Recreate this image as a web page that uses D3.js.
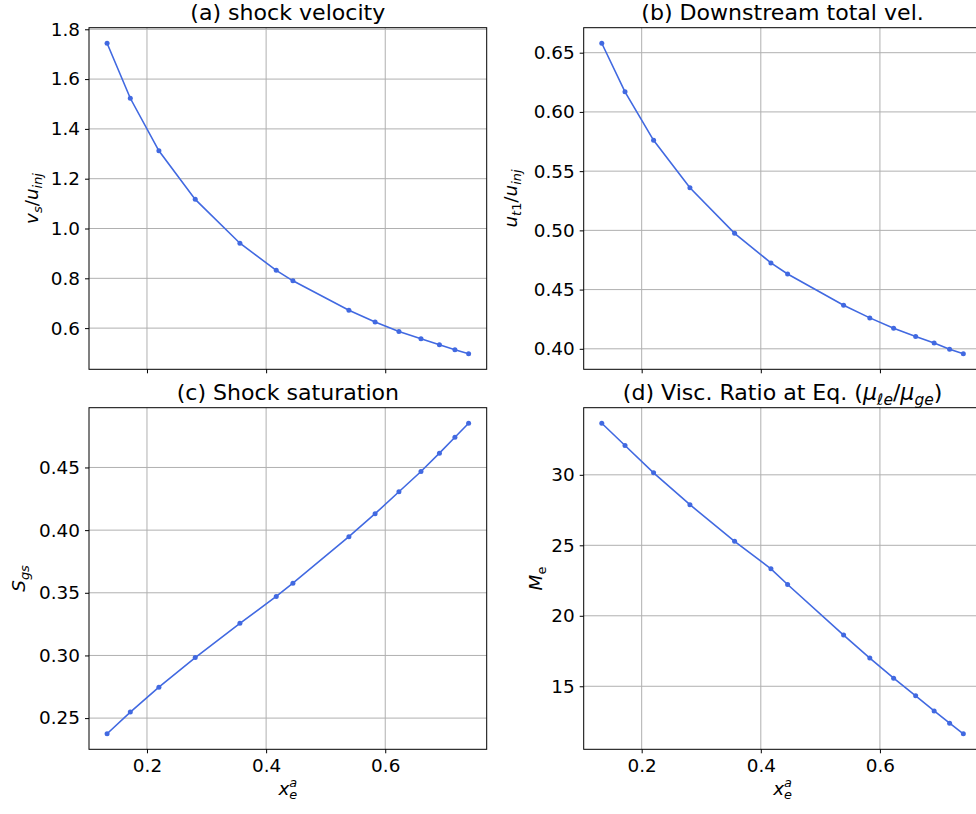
<!DOCTYPE html>
<html>
<head>
<meta charset="utf-8">
<script src="https://cdn.jsdelivr.net/npm/d3@7"></script>
<style>
  body { margin: 0; background: #fff; }
  svg { display: block; font-family: "DejaVu Sans", sans-serif; }
</style>
</head>
<body>
<div id="chart"></div>
<script>
// valores (mesmo eixo x para os quatro painéis)
const xe = [0.133, 0.172, 0.220, 0.281, 0.356, 0.417, 0.445, 0.539, 0.583, 0.623, 0.660, 0.691, 0.717, 0.740];
const shockVel = [1.744, 1.523, 1.312, 1.117, 0.941, 0.832, 0.790, 0.672, 0.625, 0.586, 0.557, 0.533, 0.513, 0.497];
const downVel = [0.658, 0.617, 0.576, 0.536, 0.4975, 0.4725, 0.4632, 0.4368, 0.4261, 0.4174, 0.4104, 0.4048, 0.3997, 0.3958];
const shockSat = [0.2375, 0.2548, 0.2747, 0.2983, 0.3256, 0.3471, 0.3577, 0.3948, 0.4131, 0.4306, 0.4468, 0.4614, 0.4741, 0.4853];
const viscRatio = [33.66, 32.08, 30.14, 27.88, 25.28, 23.33, 22.22, 18.63, 17.00, 15.57, 14.32, 13.25, 12.38, 11.63];

// ticks
const xTicks = [0.2, 0.4, 0.6];
const ticksA = [0.6, 0.8, 1.0, 1.2, 1.4, 1.6, 1.8];
const ticksB = [0.40, 0.45, 0.50, 0.55, 0.60, 0.65];
const ticksC = [0.25, 0.30, 0.35, 0.40, 0.45];
const ticksD = [15, 20, 25, 30];

// layout
const W = 976, H = 814;
const pw = 397.7, ph = 341.6;
const lefts = [89, 583.7], tops = [27.7, 407.7];
const color = "#4169e1";
const fs = 18.4;

const svg = d3.select("#chart").append("svg")
  .attr("width", W)
  .attr("height", H);

// texto com partes em itálico / subscrito / sobrescrito (estilo mathtext)
function richText(sel, parts, size) {
  parts.forEach(p => {
    const small = p.pos === "sub" || p.pos === "sup";
    const t = sel.append("tspan")
      .text(p.t)
      .style("font-style", p.it ? "italic" : "normal")
      .style("font-size", (small ? size * 0.7 : size) + "px");
    let dy = 0;
    if (p.pos === "sub") dy = size * 0.22;
    if (p.pos === "sup") dy = -size * 0.42;
    if (p.back) dy -= p.back;
    t.attr("dy", dy);
    if (p.dx) t.attr("dx", p.dx);
  });
}

const panels = [
  { col: 0, row: 0, y: shockVel, ticks: ticksA, fmt: d3.format(".1f"), xlab: false,
    title: [{ t: "(a) shock velocity" }],
    ylab: [{ t: "v", it: 1 }, { t: "s", it: 1, pos: "sub" }, { t: "/", back: fs * 0.22 }, { t: "u", it: 1 }, { t: "inj", it: 1, pos: "sub" }],
    ylx: 38 },
  { col: 1, row: 0, y: downVel, ticks: ticksB, fmt: d3.format(".2f"), xlab: false,
    title: [{ t: "(b) Downstream total vel." }],
    ylab: [{ t: "u", it: 1 }, { t: "t", it: 1, pos: "sub" }, { t: "1", pos: "sub", back: fs * 0.22 }, { t: "/", back: fs * 0.22 }, { t: "u", it: 1 }, { t: "inj", it: 1, pos: "sub" }],
    ylx: 516.5 },
  { col: 0, row: 1, y: shockSat, ticks: ticksC, fmt: d3.format(".2f"), xlab: true,
    title: [{ t: "(c) Shock saturation" }],
    ylab: [{ t: "S", it: 1 }, { t: "gs", it: 1, pos: "sub" }],
    ylx: 25 },
  { col: 1, row: 1, y: viscRatio, ticks: ticksD, fmt: d3.format("d"), xlab: true,
    title: [{ t: "(d) Visc. Ratio at Eq. (" }, { t: "μ", it: 1 }, { t: "ℓe", it: 1, pos: "sub" }, { t: "/", back: fs * 1.2 * 0.22 },
            { t: "μ", it: 1 }, { t: "ge", it: 1, pos: "sub" }, { t: ")", back: fs * 1.2 * 0.22 }],
    ylab: [{ t: "M", it: 1 }, { t: "e", pos: "sub" }],
    ylx: 541.5 }
];

// domínio com margem de 5% como no matplotlib
function padded(ext) {
  const m = (ext[1] - ext[0]) * 0.05;
  return [ext[0] - m, ext[1] + m];
}

panels.forEach(p => {
  const x0 = lefts[p.col], y0 = tops[p.row];
  const g = svg.append("g").attr("transform", `translate(${x0},${y0})`);

  const x = d3.scaleLinear().domain(padded(d3.extent(xe))).range([0, pw]);
  const y = d3.scaleLinear().domain(padded(d3.extent(p.y))).range([ph, 0]);

  // grade
  g.append("g").selectAll("line").data(xTicks).join("line")
    .attr("x1", d => x(d)).attr("x2", d => x(d))
    .attr("y1", 0).attr("y2", ph)
    .attr("stroke", "#b0b0b0").attr("stroke-width", 1);
  g.append("g").selectAll("line").data(p.ticks).join("line")
    .attr("x1", 0).attr("x2", pw)
    .attr("y1", d => y(d)).attr("y2", d => y(d))
    .attr("stroke", "#b0b0b0").attr("stroke-width", 1);

  // linha e pontos
  const pts = xe.map((v, i) => [v, p.y[i]]);
  g.append("path")
    .datum(pts)
    .attr("fill", "none")
    .attr("stroke", color)
    .attr("stroke-width", 1.6)
    .attr("d", d3.line().x(d => x(d[0])).y(d => y(d[1])));
  g.append("g").selectAll("circle").data(pts).join("circle")
    .attr("cx", d => x(d[0]))
    .attr("cy", d => y(d[1]))
    .attr("r", 2.5)
    .attr("fill", color);

  // eixos
  const ax = g.append("g")
    .attr("transform", `translate(0,${ph})`)
    .style("font-size", fs + "px")
    .style("font-family", "DejaVu Sans")
    .call(d3.axisBottom(x).tickValues(xTicks).tickSize(4).tickPadding(6)
      .tickFormat(p.xlab ? d3.format(".1f") : () => ""));
  ax.select(".domain").remove();
  ax.selectAll("text").attr("fill", "#000");

  const ay = g.append("g")
    .style("font-size", fs + "px")
    .style("font-family", "DejaVu Sans")
    .call(d3.axisLeft(y).tickValues(p.ticks).tickSize(4).tickPadding(5).tickFormat(p.fmt));
  ay.select(".domain").remove();
  ay.selectAll("text").attr("fill", "#000");

  // moldura
  g.append("rect")
    .attr("width", pw).attr("height", ph)
    .attr("fill", "none").attr("stroke", "#000").attr("stroke-width", 1);

  // título
  const tt = g.append("text")
    .attr("x", pw / 2).attr("y", -7.3)
    .attr("text-anchor", "middle")
    .attr("fill", "#000");
  richText(tt, p.title, fs * 1.2);

  // rótulo y
  const yl = svg.append("text")
    .attr("transform", `translate(${p.ylx},${y0 + ph / 2}) rotate(-90)`)
    .attr("text-anchor", "middle")
    .attr("fill", "#000");
  richText(yl, p.ylab, fs);

  // rótulo x
  if (p.xlab) {
    const xl = svg.append("text")
      .attr("x", x0 + pw / 2).attr("y", y0 + ph + 45.5)
      .attr("text-anchor", "middle")
      .attr("fill", "#000");
    richText(xl, [{ t: "x", it: 1 }, { t: "a", it: 1, pos: "sup" },
      { t: "e", it: 1, pos: "sub", dx: -fs * 0.7 * 0.61, back: -fs * 0.42 }], fs);
  }
});
</script>
</body>
</html>
